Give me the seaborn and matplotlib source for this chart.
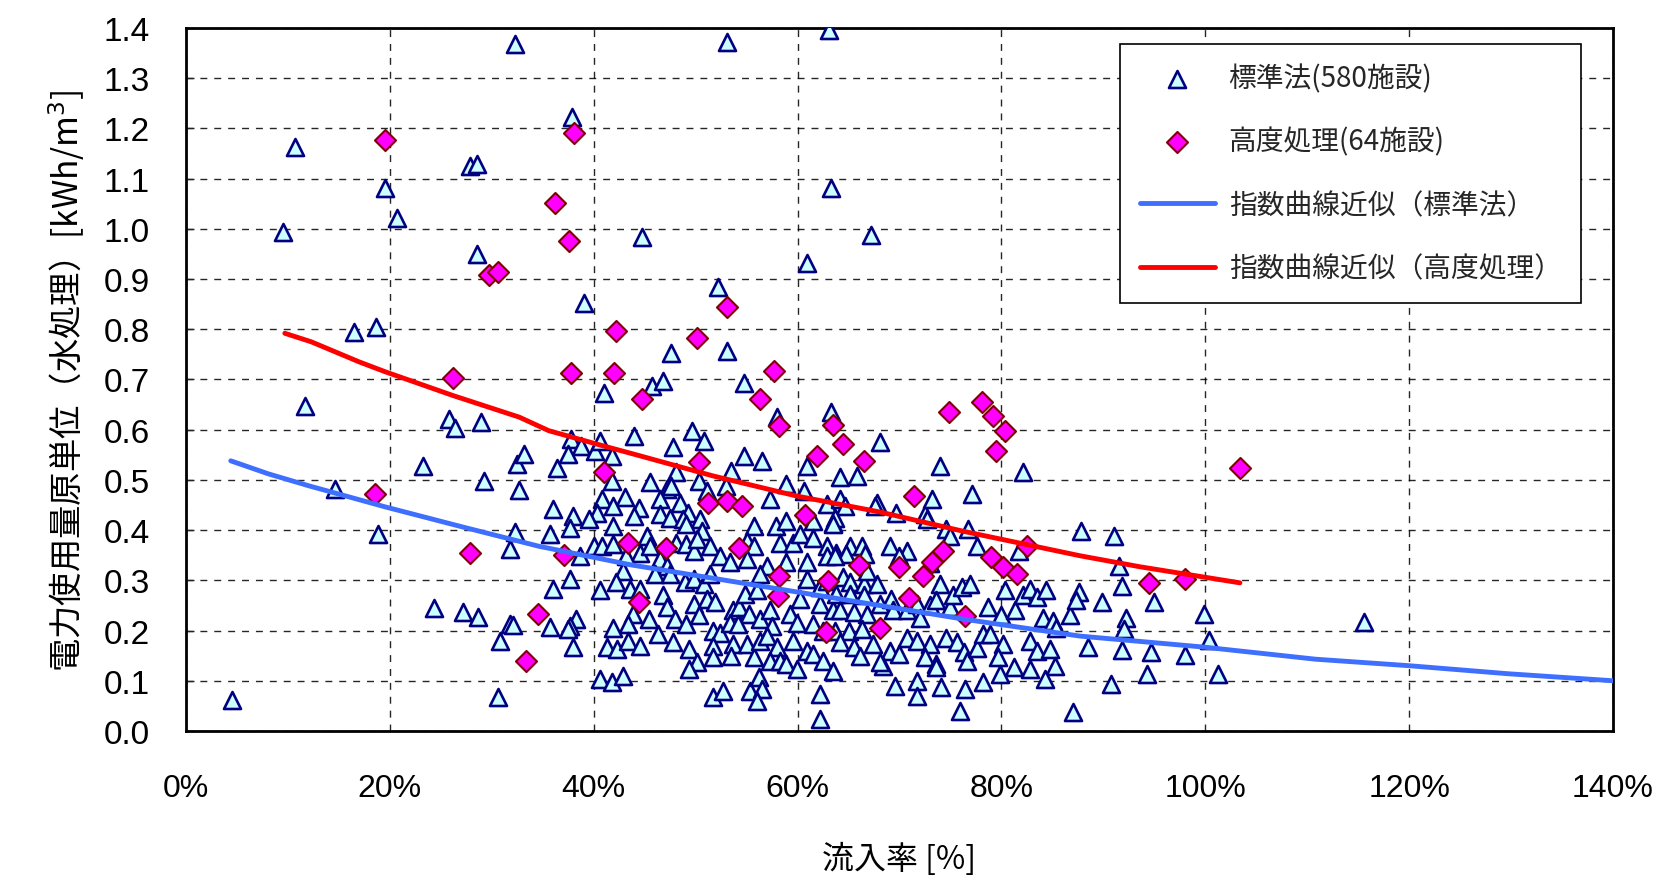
import numpy as np
import pandas as pd
import seaborn as sns
import matplotlib
matplotlib.use('Agg')
import matplotlib.pyplot as plt
from matplotlib.ticker import FuncFormatter, MultipleLocator

# 標準法 (triangles): inflow rate [%], power unit [kWh/m3]
std_x = [
    4.5, 9.5, 10.7, 11.7, 14.6, 16.5, 18.6, 18.8, 19.5, 20.7, 23.3, 24.3, 25.8, 26.4,
    27.2, 27.9, 28.6, 28.6, 28.7, 28.9, 29.2, 30.6, 30.8, 31.8, 31.8, 32.1, 32.3, 32.3,
    32.5, 32.7, 33.2, 35.7, 35.7, 36.0, 36.0, 36.4, 37.9, 39.1, 41.0,
    44.7, 45.7, 46.8, 47.6, 52.2, 53.1, 53.1, 54.7, 58.0, 60.9, 63.1, 63.3, 63.3, 67.2,
    # 37-64 %, upper band
    37.8, 38.8, 37.5, 40.1, 40.6, 41.8, 44.0, 47.8, 49.6, 50.8, 54.7, 56.5, 60.9,
    41.8, 45.5, 48.1, 47.2, 47.6, 50.3, 51.1, 53.5, 53.0, 57.3, 58.9, 60.6,
    40.8, 43.1, 41.9, 44.4, 40.3, 46.5, 48.5, 49.3, 38.0, 39.5, 37.7, 41.9,
    44.0, 46.5, 47.5, 48.8, 50.4, 49.1, 50.6, 55.7, 57.9, 58.9, 61.5, 62.9, 63.5,
    40.0, 40.8, 41.9, 45.2, 44.5, 45.5, 48.1, 49.1, 49.8, 50.1, 51.4, 55.0, 55.7,
    58.3, 59.6, 60.2, 61.5, 62.9, 63.8, 38.7, 43.2, 46.5, 47.2, 52.4, 53.4, 55.0,
    57.0, 58.9, 60.9, 62.9,
    # 63-82 %, upper band
    68.1, 74.0, 82.1, 64.2, 65.8, 64.2, 64.7, 67.8, 67.6, 69.7, 72.5, 72.7, 73.2,
    77.1, 63.7, 63.5, 74.6, 75.0, 76.7, 77.6, 69.1, 70.7, 70.0, 65.1, 64.8, 66.3,
    66.6, 63.7, 81.7, 73.0,
    # 37-64 %, lower band
    42.9, 37.7, 40.6, 42.2, 43.6, 44.5, 46.8, 47.2, 45.4, 43.9, 43.4, 41.9, 38.3,
    37.7, 37.5, 38.0, 41.3, 42.3, 43.4, 44.5, 46.3, 47.8, 48.0, 49.1, 49.0, 49.8,
    50.8, 49.8, 51.1, 51.9, 50.3, 49.4, 50.1, 49.4, 51.7, 52.4, 51.7, 51.7, 53.7,
    54.3, 55.2, 53.4, 54.2, 53.7, 55.0, 53.5, 55.7, 54.8, 56.0, 56.3, 57.3, 57.5,
    56.3, 57.0, 58.0, 57.3, 58.3, 59.3, 59.9, 59.6, 60.9, 58.9, 59.9, 60.9, 62.2,
    62.9, 60.2, 62.2, 63.5, 61.5, 62.5, 61.5, 62.5, 63.5, 40.6, 41.8, 42.9, 51.7,
    52.7, 55.3, 56.2, 56.5, 56.0, 62.2, 62.2, 56.3, 51.4, 46.0, 47.5,
    # 63-87 %, lower band
    64.5, 65.1, 66.5, 67.8, 66.8, 63.8, 65.1, 66.5, 64.2, 65.5, 66.8, 68.1, 69.2,
    69.4, 70.7, 71.7, 72.0, 73.0, 74.0, 73.6, 75.0, 75.3, 76.1, 76.9, 78.7, 80.0,
    80.4, 81.3, 82.1, 82.8, 83.5, 84.4, 84.1, 85.1, 85.4, 86.7, 63.7, 65.0, 66.3,
    64.2, 65.5, 66.1, 67.4, 69.1, 70.0, 70.7, 71.7, 73.0, 68.4, 68.1, 72.5, 73.6,
    73.6, 74.6, 75.6, 76.3, 76.6, 77.6, 78.2, 78.9, 80.2, 79.7, 82.8, 83.5, 84.8,
    81.2, 82.8, 85.3, 79.9, 84.3, 69.6, 71.7, 71.7, 74.1, 76.4, 78.2, 75.9,
    # 87 % and up
    87.8, 91.0, 91.5, 91.8, 87.6, 87.3, 89.9, 95.0, 99.9, 92.2, 92.0, 100.4, 88.5,
    91.8, 94.7, 98.0, 94.3, 101.2, 90.8, 87.0, 115.6,
]
std_y = [
    0.062, 0.994, 1.163, 0.647, 0.482, 0.795, 0.805, 0.392, 1.081, 1.022, 0.528, 0.245, 0.621, 0.603,
    0.237, 1.125, 1.129, 0.950, 0.227, 0.615, 0.498, 0.068, 0.179, 0.362, 0.213, 0.211, 1.368, 0.396,
    0.532, 0.480, 0.552, 0.392, 0.207, 0.442, 0.283, 0.524, 1.223, 0.852, 0.673,
    0.984, 0.687, 0.697, 0.753, 0.884, 1.372, 0.757, 0.693, 0.625, 0.932, 1.396, 1.081, 0.635, 0.988,
    0.581, 0.568, 0.551, 0.558, 0.578, 0.547, 0.588, 0.565, 0.598, 0.578, 0.548, 0.538, 0.528,
    0.498, 0.495, 0.515, 0.482, 0.488, 0.498, 0.478, 0.518, 0.488, 0.462, 0.492, 0.478,
    0.462, 0.465, 0.448, 0.445, 0.435, 0.462, 0.455, 0.435, 0.428, 0.422, 0.405, 0.409,
    0.428, 0.432, 0.425, 0.422, 0.422, 0.412, 0.399, 0.409, 0.409, 0.418, 0.418, 0.452, 0.415,
    0.369, 0.369, 0.372, 0.389, 0.355, 0.369, 0.375, 0.372, 0.359, 0.382, 0.369, 0.379, 0.369,
    0.375, 0.375, 0.392, 0.385, 0.369, 0.355, 0.349, 0.349, 0.342, 0.329, 0.349, 0.336, 0.342,
    0.329, 0.336, 0.336, 0.349,
    0.575, 0.528, 0.515, 0.505, 0.508, 0.462, 0.448, 0.455, 0.448, 0.435, 0.432, 0.422, 0.462,
    0.472, 0.425, 0.412, 0.402, 0.389, 0.402, 0.369, 0.369, 0.359, 0.349, 0.369, 0.352, 0.369,
    0.352, 0.349, 0.359, 0.335,
    0.319, 0.303, 0.280, 0.296, 0.283, 0.283, 0.270, 0.246, 0.223, 0.233, 0.213, 0.206, 0.223,
    0.210, 0.203, 0.167, 0.167, 0.163, 0.180, 0.170, 0.193, 0.177, 0.223, 0.213, 0.296, 0.303,
    0.293, 0.253, 0.263, 0.256, 0.230, 0.163, 0.137, 0.123, 0.200, 0.196, 0.170, 0.147, 0.240,
    0.246, 0.233, 0.216, 0.213, 0.173, 0.173, 0.150, 0.147, 0.273, 0.280, 0.223, 0.240, 0.210,
    0.180, 0.190, 0.167, 0.140, 0.140, 0.233, 0.216, 0.180, 0.160, 0.133, 0.123, 0.303, 0.286,
    0.299, 0.263, 0.253, 0.240, 0.213, 0.200, 0.153, 0.140, 0.120, 0.104, 0.097, 0.110, 0.067,
    0.080, 0.080, 0.107, 0.084, 0.060, 0.074, 0.024, 0.313, 0.313, 0.313, 0.313,
    0.306, 0.296, 0.293, 0.293, 0.319, 0.273, 0.273, 0.270, 0.240, 0.236, 0.233, 0.253, 0.263,
    0.240, 0.240, 0.253, 0.226, 0.250, 0.293, 0.260, 0.246, 0.270, 0.286, 0.293, 0.246, 0.230,
    0.280, 0.240, 0.270, 0.283, 0.266, 0.280, 0.226, 0.220, 0.206, 0.230, 0.200, 0.200, 0.203,
    0.177, 0.167, 0.150, 0.173, 0.160, 0.153, 0.186, 0.180, 0.173, 0.130, 0.137, 0.147, 0.133,
    0.127, 0.186, 0.177, 0.157, 0.140, 0.166, 0.193, 0.193, 0.173, 0.147, 0.180, 0.160, 0.163,
    0.127, 0.123, 0.130, 0.113, 0.104, 0.090, 0.100, 0.070, 0.087, 0.084, 0.097, 0.040,
    0.398, 0.388, 0.329, 0.288, 0.276, 0.260, 0.256, 0.256, 0.233, 0.226, 0.203, 0.182, 0.167,
    0.162, 0.157, 0.151, 0.114, 0.114, 0.094, 0.038, 0.218,
]

# 高度処理 (diamonds)
adv_x = [
    19.5, 38.1, 36.2, 37.6, 29.7, 30.6, 42.2, 26.2, 37.8, 42.0, 41.0, 18.5, 43.4, 27.9,
    37.1, 34.5, 33.4, 53.1, 50.1, 57.7, 44.7, 56.3, 74.9, 78.1, 79.2, 80.4, 79.5, 58.2,
    63.5, 64.5, 61.9, 66.5, 50.3, 51.2, 53.1, 54.6, 60.7, 71.4, 74.3, 73.2, 72.3, 70.0,
    82.5, 79.0, 80.2, 81.5, 66.0, 63.0, 58.2, 58.1, 54.3, 47.1, 44.4, 70.9, 76.4, 62.8,
    68.1, 103.4, 94.5, 98.0,
]
adv_y = [
    1.177, 1.191, 1.052, 0.976, 0.908, 0.914, 0.797, 0.703, 0.713, 0.713, 0.516, 0.472, 0.374, 0.355,
    0.351, 0.233, 0.139, 0.844, 0.783, 0.717, 0.661, 0.661, 0.635, 0.655, 0.627, 0.598, 0.558, 0.607,
    0.609, 0.572, 0.548, 0.538, 0.536, 0.454, 0.458, 0.448, 0.430, 0.468, 0.358, 0.336, 0.309, 0.327,
    0.368, 0.347, 0.327, 0.313, 0.331, 0.299, 0.309, 0.269, 0.364, 0.364, 0.257, 0.265, 0.229, 0.197,
    0.205, 0.524, 0.295, 0.303,
]

# exponential trend lines
fit_std_x = [4.4, 8.1, 12.1, 19.6, 27.2, 34.6, 43.6, 59.9, 76.2, 87.7, 99.9, 110.8, 120.0, 129.7, 140.0]
fit_std_y = [0.538, 0.512, 0.488, 0.446, 0.406, 0.368, 0.331, 0.277, 0.223, 0.189, 0.167, 0.143, 0.130, 0.114, 0.100]
fit_adv_x = [9.7, 12.3, 17.0, 19.6, 26.2, 32.7, 35.6, 40.9, 44.0, 51.7, 59.9, 68.1, 76.2, 87.7, 93.6, 103.4]
fit_adv_y = [0.792, 0.775, 0.735, 0.715, 0.668, 0.625, 0.598, 0.568, 0.551, 0.508, 0.468, 0.436, 0.398, 0.349, 0.327, 0.295]

lbl_std = '標準法(580施設)'
lbl_adv = '高度処理(64施設)'
lbl_fit_std = '指数曲線近似（標準法）'
lbl_fit_adv = '指数曲線近似（高度処理）'

sns.set_theme(style='white')
plt.rcParams['font.family'] = ['Noto Sans CJK JP', 'DejaVu Sans']
plt.rcParams['axes.unicode_minus'] = False

fig = plt.figure(figsize=(16.66, 8.78), dpi=100)
ax = fig.add_axes([0.1116, 0.1663, 0.8566, 0.8007])

std = pd.DataFrame({'x': std_x, 'y': std_y})
adv = pd.DataFrame({'x': adv_x, 'y': adv_y})

sns.scatterplot(data=std, x='x', y='y', marker='^', s=150, color='#CCFFFF',
                edgecolor='#000080', linewidth=1.9, ax=ax, label=lbl_std, zorder=3)
sns.scatterplot(data=adv, x='x', y='y', marker='D', s=115, color='#FF00FF',
                edgecolor='#800000', linewidth=1.5, ax=ax, label=lbl_adv, zorder=4)
sns.lineplot(x=fit_std_x, y=fit_std_y, sort=False, estimator=None, color='#3F6FFF',
             linewidth=3.5, ax=ax, label=lbl_fit_std, zorder=5)
sns.lineplot(x=fit_adv_x, y=fit_adv_y, sort=False, estimator=None, color='#FF0000',
             linewidth=3.5, ax=ax, label=lbl_fit_adv, zorder=5)

ax.set_xlim(0, 140)
ax.set_ylim(0, 1.4)
ax.xaxis.set_major_locator(MultipleLocator(20))
ax.yaxis.set_major_locator(MultipleLocator(0.1))
ax.xaxis.set_major_formatter(FuncFormatter(lambda v, p: f'{v:.0f}%'))
ax.yaxis.set_major_formatter(FuncFormatter(lambda v, p: f'{v:.1f}'))
ax.grid(True, color='black', linestyle=(0, (5, 5)), linewidth=1.0, alpha=0.85)
for sp in ax.spines.values():
    sp.set_color('black')
    sp.set_linewidth(2)
ax.tick_params(axis='y', direction='in', length=6, width=1, pad=26, labelsize=24,
               left=True, labelcolor='black')
ax.tick_params(axis='x', length=0, pad=30, labelsize=23, labelcolor='black')
for t in ax.get_xticklabels():
    t.set_family(['Liberation Sans Narrow', 'Liberation Sans', 'DejaVu Sans'])
for t in ax.get_yticklabels():
    t.set_family(['Liberation Sans', 'DejaVu Sans'])

ax.set_xlabel('流入率 [%]', fontsize=23, labelpad=28, color='black')
ax.set_ylabel('電力使用量原単位（水処理）[kWh/m$^3$]', fontsize=24, labelpad=12, color='black')

leg = ax.legend(loc='upper right', bbox_to_anchor=(0.9776, 0.9772), borderaxespad=0,
                fontsize=20, frameon=True, fancybox=False, edgecolor='black',
                labelspacing=1.2, handlelength=2.7, handletextpad=0.5,
                borderpad=0.7, framealpha=1)
leg.get_frame().set_linewidth(1.2)

fig.savefig('out.png', dpi=100, facecolor='white')
